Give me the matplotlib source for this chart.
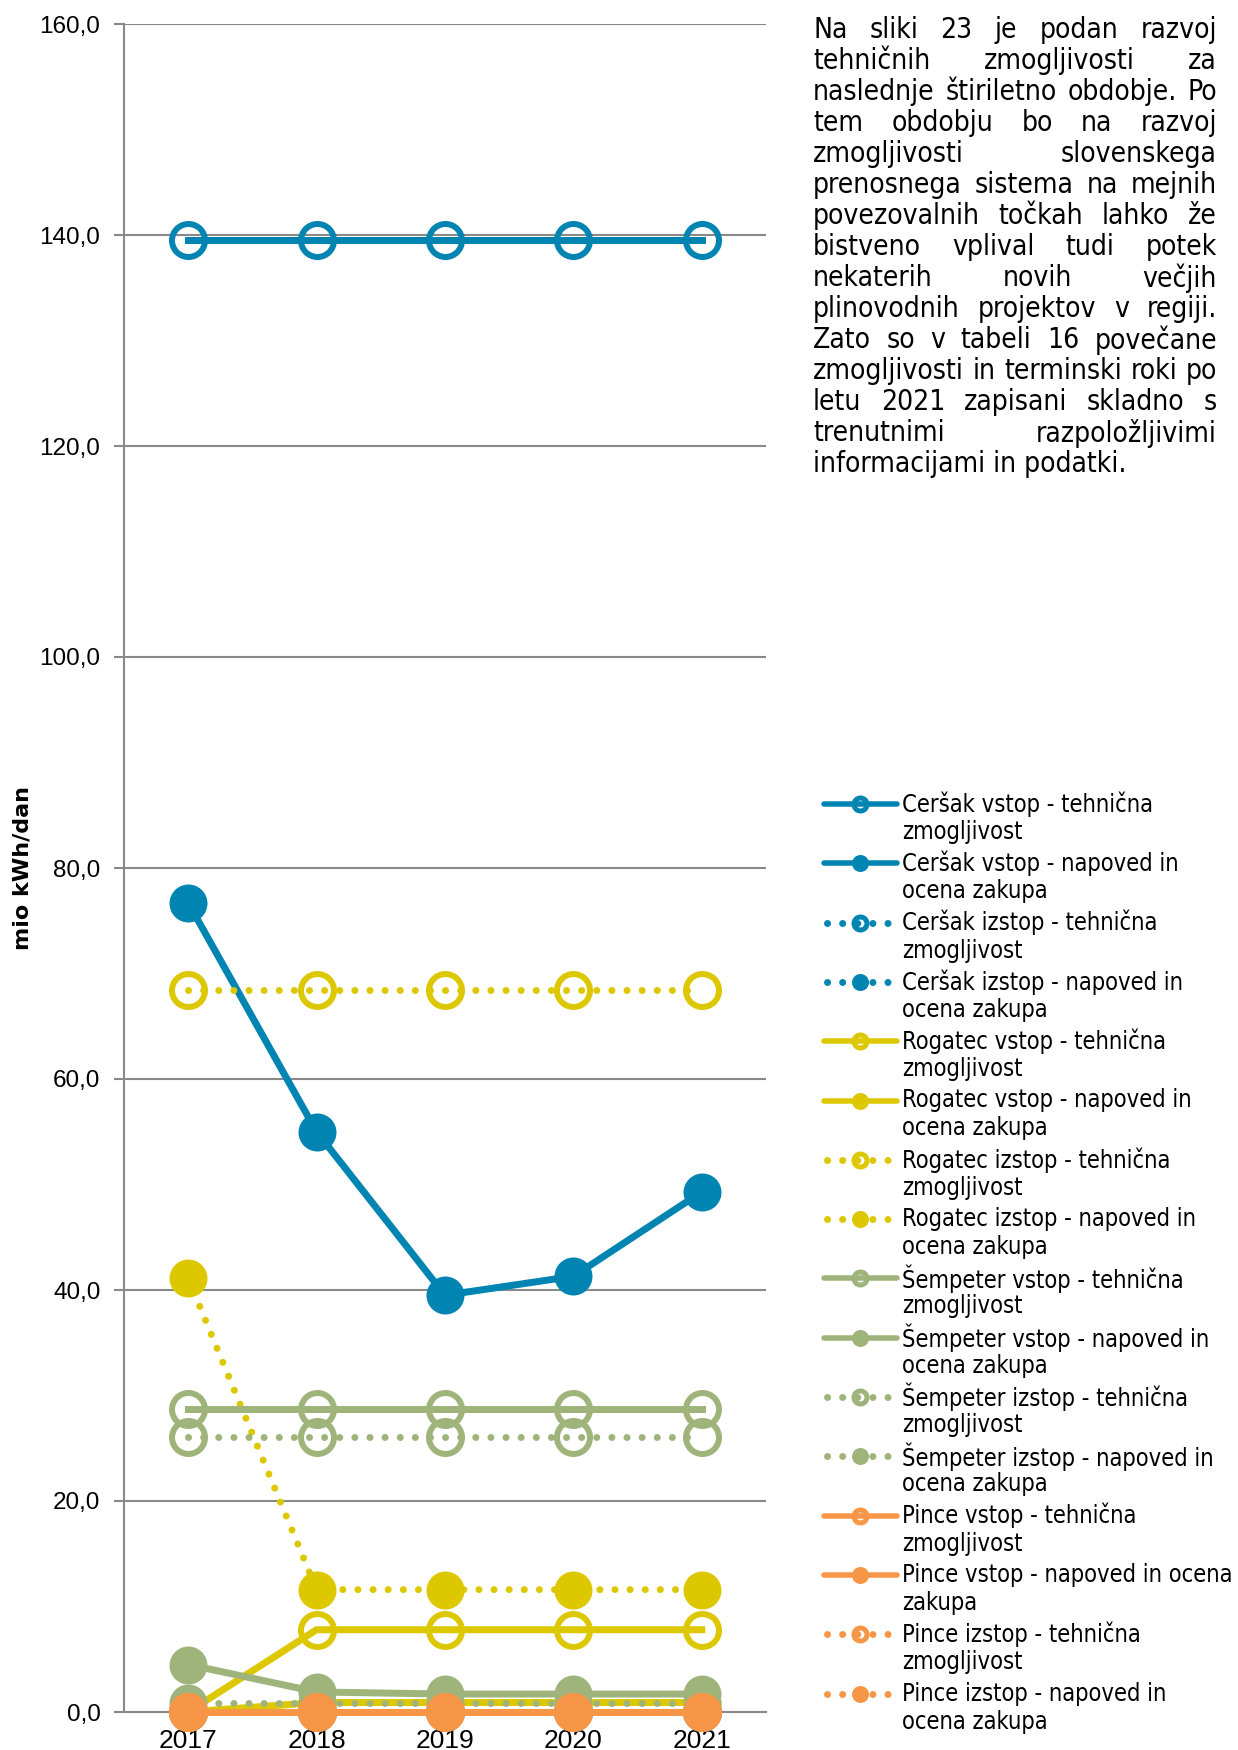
import matplotlib
matplotlib.use('Agg')
import matplotlib.pyplot as plt
from matplotlib import font_manager
from matplotlib.font_manager import FontProperties
from matplotlib.lines import Line2D

W, H = 1238, 1750

years = ['2017', '2018', '2019', '2020', '2021']

cersak_vstop_teh = [139.5, 139.5, 139.5, 139.5, 139.5]
cersak_vstop_nap = [76.7, 55.0, 39.5, 41.3, 49.3]
cersak_izstop_teh = [0.0, 0.0, 0.0, 0.0, 0.0]
cersak_izstop_nap = [0.0, 0.0, 0.0, 0.0, 0.0]
rogatec_vstop_teh = [0.0, 7.8, 7.8, 7.8, 7.8]
rogatec_vstop_nap = [0.0, 0.9, 0.9, 0.9, 0.9]
rogatec_izstop_teh = [68.4, 68.4, 68.4, 68.4, 68.4]
rogatec_izstop_nap = [41.1, 11.6, 11.6, 11.6, 11.6]
sempeter_vstop_teh = [28.7, 28.7, 28.7, 28.7, 28.7]
sempeter_vstop_nap = [4.5, 1.9, 1.7, 1.7, 1.7]
sempeter_izstop_teh = [26.1, 26.1, 26.1, 26.1, 26.1]
sempeter_izstop_nap = [0.9, 0.9, 0.9, 0.9, 0.9]
pince_vstop_teh = [0.0, 0.0, 0.0, 0.0, 0.0]
pince_vstop_nap = [0.0, 0.0, 0.0, 0.0, 0.0]
pince_izstop_teh = [0.0, 0.0, 0.0, 0.0, 0.0]
pince_izstop_nap = [0.0, 0.0, 0.0, 0.0, 0.0]

labels = [
    'Ceršak vstop - tehnična\nzmogljivost',
    'Ceršak vstop - napoved in\nocena zakupa',
    'Ceršak izstop - tehnična\nzmogljivost',
    'Ceršak izstop - napoved in\nocena zakupa',
    'Rogatec vstop - tehnična\nzmogljivost',
    'Rogatec vstop - napoved in\nocena zakupa',
    'Rogatec izstop - tehnična\nzmogljivost',
    'Rogatec izstop - napoved in\nocena zakupa',
    'Šempeter vstop - tehnična\nzmogljivost',
    'Šempeter vstop - napoved in\nocena zakupa',
    'Šempeter izstop - tehnična\nzmogljivost',
    'Šempeter izstop - napoved in\nocena zakupa',
    'Pince vstop - tehnična\nzmogljivost',
    'Pince vstop - napoved in ocena\nzakupa',
    'Pince izstop - tehnična\nzmogljivost',
    'Pince izstop - napoved in\nocena zakupa',
]

series = [cersak_vstop_teh, cersak_vstop_nap, cersak_izstop_teh, cersak_izstop_nap,
          rogatec_vstop_teh, rogatec_vstop_nap, rogatec_izstop_teh, rogatec_izstop_nap,
          sempeter_vstop_teh, sempeter_vstop_nap, sempeter_izstop_teh, sempeter_izstop_nap,
          pince_vstop_teh, pince_vstop_nap, pince_izstop_teh, pince_izstop_nap]

colors = ['#0085B2'] * 4 + ['#DDC800'] * 4 + ['#9FB47B'] * 4 + ['#F79646'] * 4

paragraph = [
    'Na sliki 23 je podan razvoj',
    'tehničnih zmogljivosti za',
    'naslednje štiriletno obdobje. Po',
    'tem obdobju bo na razvoj',
    'zmogljivosti slovenskega',
    'prenosnega sistema na mejnih',
    'povezovalnih točkah lahko že',
    'bistveno vplival tudi potek',
    'nekaterih novih večjih',
    'plinovodnih projektov v regiji.',
    'Zato so v tabeli 16 povečane',
    'zmogljivosti in terminski roki po',
    'letu 2021 zapisani skladno s',
    'trenutnimi razpoložljivimi',
    'informacijami in podatki.',
]


def has_font(name):
    try:
        font_manager.findfont(name, fallback_to_default=False)
        return True
    except Exception:
        return False


# Tahoma-like text: DejaVu Sans Condensed when the system has it
cond = font_manager.findfont(FontProperties(family='DejaVu Sans', stretch='condensed'))
txt_stretch = 'condensed' if 'Condensed' in cond else 'normal'
txt_font = 'DejaVu Sans'
num_font = 'Liberation Sans'
narrow_font = 'Liberation Sans Narrow' if has_font('Liberation Sans Narrow') else 'Liberation Sans'

px = 72 / 100  # points per pixel at dpi 100

fig = plt.figure(figsize=(W / 100, H / 100), dpi=100)
ax = fig.add_axes([124 / W, 1 - 1712 / H, (766 - 124) / W, (1712 - 24) / H])

x = list(range(len(years)))
for i, (vals, c) in enumerate(zip(series, colors)):
    dotted = (i // 2) % 2 == 1
    teh = i % 2 == 0
    ls = (0, (0.01, 2.15)) if dotted else '-'
    if teh:
        ax.plot(x, vals, color=c, lw=7 * px, linestyle=ls,
                dash_capstyle='round', marker='o', ms=33 * px, mew=6 * px,
                mfc='none', mec=c, zorder=3 + i, clip_on=False)
    else:
        ax.plot(x, vals, color=c, lw=7 * px, linestyle=ls,
                dash_capstyle='round', marker='o', ms=38 * px, mew=0,
                mfc=c, zorder=3 + i, clip_on=False)

ax.set_xlim(-0.5, 4.5)
ax.set_ylim(0, 160)
ax.set_yticks(range(0, 161, 20))
ax.set_yticklabels([f'{v},0' for v in range(0, 161, 20)], fontfamily=num_font, fontsize=17.5)
ax.set_xticks(x)
ax.set_xticklabels(years, fontfamily=narrow_font, fontsize=19)
ax.tick_params(axis='x', length=0, pad=12)
ax.tick_params(axis='y', length=7, width=1.5, color='#898989', pad=10)
ax.grid(axis='y', color='#898989', lw=1.5)
ax.set_axisbelow(True)
for s in ['top', 'right']:
    ax.spines[s].set_visible(False)
ax.spines['left'].set_color('#898989')
ax.spines['left'].set_linewidth(1.5)
ax.spines['bottom'].set_color('#898989')
ax.spines['bottom'].set_linewidth(1.5)

fig.text(22 / W, 1 - 868 / H, 'mio kWh/dan', rotation=90, ha='center', va='center',
         fontfamily=txt_font, fontweight='bold', fontsize=16)

r = fig.canvas.get_renderer()


def fit_size(text, target):
    t = fig.text(0, 0, text, fontfamily=txt_font, fontstretch=txt_stretch, fontsize=10)
    w = t.get_window_extent(r).width
    t.remove()
    return 10 * target / w


body_size = fit_size('naslednje štiriletno obdobje. Po', 398)
leg_size = fit_size('Pince vstop - napoved in ocena', 333)

# justified paragraph at the top right
x0, x1, y0, dy = 813, 1217, 30, 31
for k, line in enumerate(paragraph):
    y = 1 - (y0 + k * dy) / H
    words = line.split()
    if k == len(paragraph) - 1:
        fig.text(x0 / W, y, line, fontfamily=txt_font, fontstretch=txt_stretch,
                 fontsize=body_size, va='center')
        continue
    ts = [fig.text(0, y, w, fontfamily=txt_font, fontstretch=txt_stretch,
                   fontsize=body_size, va='center') for w in words]
    ws = [t.get_window_extent(r).width for t in ts]
    gap = (x1 - x0 - sum(ws)) / (len(words) - 1)
    xx = x0
    for t, w in zip(ts, ws):
        t.set_x(xx / W)
        xx += w + gap

# legend
lax = fig.add_axes([0, 0, 1, 1], zorder=-1)
lax.set_xlim(0, W)
lax.set_ylim(H, 0)
lax.axis('off')
for i, (lab, c) in enumerate(zip(labels, colors)):
    y = 804 + i * 59.3
    dotted = (i // 2) % 2 == 1
    teh = i % 2 == 0
    if dotted:
        lax.add_line(Line2D([827, 890], [y, y], color=c, lw=7 * px,
                            linestyle=(0, (0.01, 2.15)), dash_capstyle='round'))
    else:
        lax.add_line(Line2D([824, 897], [y, y], color=c, lw=5.5 * px, solid_capstyle='round'))
    if teh:
        lax.plot([860], [y], marker='o', ms=13 * px, mew=5 * px, mfc='none', mec=c)
    else:
        lax.plot([860], [y], marker='o', ms=17 * px, mew=0, mfc=c)
    first, second = lab.split('\n')
    lax.text(902, y, first, fontfamily=txt_font, fontstretch=txt_stretch,
             fontsize=leg_size, va='center')
    lax.text(902, y + 28, second, fontfamily=txt_font, fontstretch=txt_stretch,
             fontsize=leg_size, va='center')

fig.savefig('out.png', dpi=100)
